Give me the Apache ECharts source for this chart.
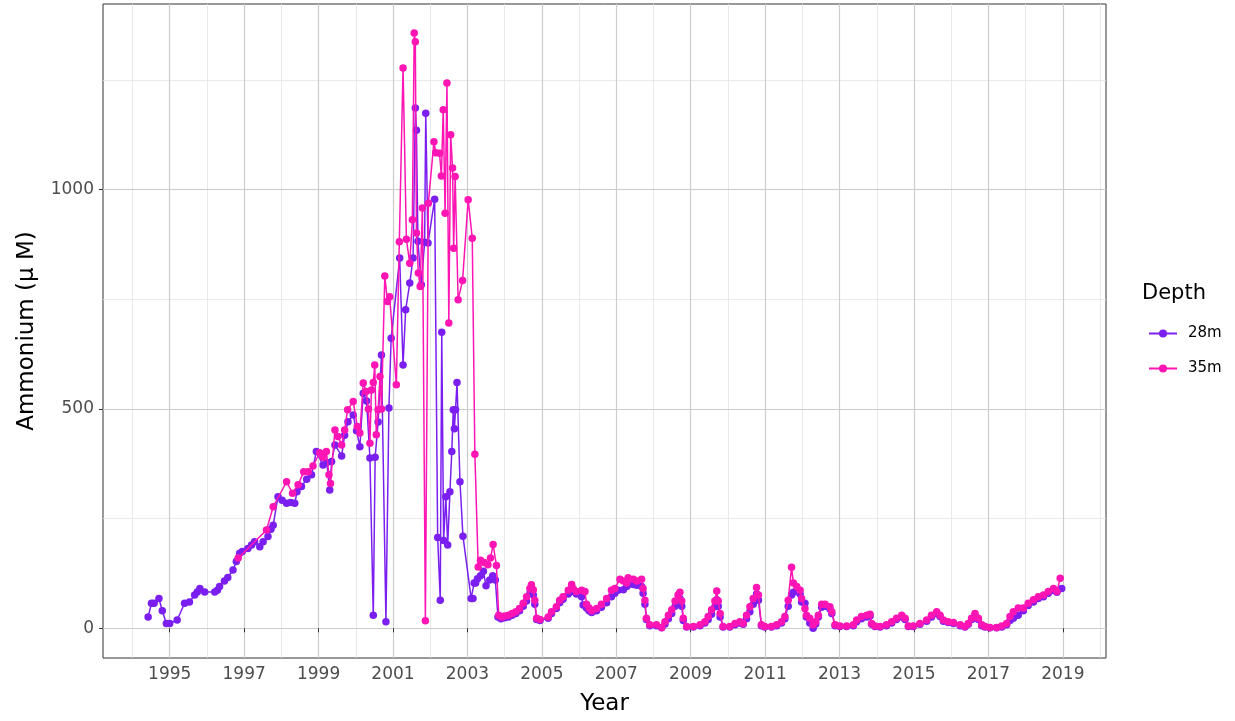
<!DOCTYPE html>
<html><head><meta charset="utf-8">
<script src="https://cdn.jsdelivr.net/npm/echarts@6/dist/echarts.min.js"></script>
<style>html,body{margin:0;padding:0;background:#fff}#c{width:1235px;height:721px}</style>
</head><body><div id="c"></div>
<script>
// [decimal year, ammonium µM]
const depth28m = [
[1994.42,26],[1994.51,57],[1994.58,57],[1994.71,68],[1994.8,40],[1994.91,11],[1995.0,11],[1995.2,19],[1995.4,57],[1995.53,60],
[1995.67,76],[1995.74,83],[1995.81,91],[1995.94,83],[1996.21,83],[1996.28,87],[1996.34,95],[1996.47,108],[1996.56,116],[1996.7,133],
[1996.79,152],[1996.88,171],[1996.95,175],[1997.1,182],[1997.2,190],[1997.28,197],[1997.42,186],[1997.51,197],[1997.64,209],[1997.72,226],
[1997.78,235],[1997.91,300],[1998.02,292],[1998.14,285],[1998.25,287],[1998.36,285],[1998.42,311],[1998.54,323],[1998.68,340],[1998.81,350],
[1998.94,403],[1999.12,372],[1999.22,378],[1999.3,315],[1999.35,380],[1999.44,418],[1999.62,393],[1999.7,440],[1999.79,471],[1999.93,486],
[2000.02,450],[2000.11,414],[2000.2,536],[2000.29,518],[2000.38,388],[2000.47,30],[2000.52,390],[2000.6,470],[2000.69,623],[2000.81,15],
[2000.89,502],[2000.95,661],[2001.18,844],[2001.27,600],[2001.34,726],[2001.45,787],[2001.54,844],[2001.6,1186],[2001.63,1135],[2001.67,882],
[2001.76,783],[2001.85,880],[2001.88,1174],[2001.94,878],[2002.12,978],[2002.2,207],[2002.27,64],[2002.31,675],[2002.36,200],[2002.42,300],
[2002.47,190],[2002.53,311],[2002.58,403],[2002.62,498],[2002.65,455],[2002.68,498],[2002.72,560],[2002.8,334],[2002.88,210],[2003.1,68],
[2003.15,68],[2003.18,103],[2003.22,103],[2003.27,113],[2003.35,120],[2003.43,130],[2003.5,97],[2003.6,110],[2003.68,120],[2003.75,110],
[2003.82,26],[2003.9,22],[2004.0,24],[2004.1,26],[2004.2,30],[2004.3,34],[2004.4,40],[2004.5,50],[2004.59,62],[2004.68,80],
[2004.72,85],[2004.77,76],[2004.81,55],[2004.86,20],[2004.95,18],[2005.17,23],[2005.26,34],[2005.39,45],[2005.48,58],[2005.57,66],
[2005.71,78],[2005.8,90],[2005.84,84],[2005.93,78],[2006.07,72],[2006.11,53],[2006.2,46],[2006.27,40],[2006.34,36],[2006.47,40],
[2006.6,48],[2006.74,58],[2006.87,72],[2006.96,80],[2007.05,87],[2007.19,88],[2007.28,95],[2007.32,100],[2007.46,100],[2007.55,98],
[2007.68,95],[2007.72,80],[2007.77,55],[2007.81,20],[2007.9,6],[2008.08,6],[2008.22,1],[2008.31,10],[2008.4,22],[2008.49,34],
[2008.58,50],[2008.66,62],[2008.71,68],[2008.76,50],[2008.8,18],[2008.89,3],[2009.07,3],[2009.25,6],[2009.38,12],[2009.47,20],
[2009.56,32],[2009.65,49],[2009.7,65],[2009.74,50],[2009.79,26],[2009.87,3],[2010.05,3],[2010.19,8],[2010.32,12],[2010.41,9],
[2010.5,22],[2010.59,38],[2010.68,55],[2010.77,78],[2010.82,64],[2010.9,6],[2010.99,3],[2011.17,3],[2011.31,6],[2011.44,12],
[2011.53,22],[2011.62,50],[2011.71,76],[2011.76,82],[2011.85,85],[2011.94,78],[2011.98,60],[2012.07,57],[2012.11,26],[2012.2,12],
[2012.29,0],[2012.36,10],[2012.43,26],[2012.52,48],[2012.61,50],[2012.74,44],[2012.79,34],[2012.88,6],[2013.01,4],[2013.19,4],
[2013.37,6],[2013.46,15],[2013.59,22],[2013.73,26],[2013.82,28],[2013.86,9],[2013.95,4],[2014.09,3],[2014.26,6],[2014.4,12],
[2014.53,20],[2014.67,26],[2014.76,20],[2014.85,4],[2014.98,4],[2015.16,9],[2015.34,16],[2015.47,26],[2015.61,33],[2015.7,27],
[2015.79,16],[2015.92,13],[2016.06,11],[2016.24,6],[2016.37,3],[2016.46,9],[2016.55,20],[2016.64,30],[2016.73,20],[2016.82,6],
[2016.91,3],[2017.04,1],[2017.22,1],[2017.36,3],[2017.49,8],[2017.58,18],[2017.67,23],[2017.8,30],[2017.94,40],[2018.07,52],
[2018.21,60],[2018.34,68],[2018.48,72],[2018.61,80],[2018.75,86],[2018.84,82],[2018.97,91]
];
const depth35m = [
[1996.84,160],[1997.6,224],[1997.78,277],[1998.14,334],[1998.3,308],[1998.45,327],[1998.6,357],[1998.72,357],[1998.85,370],[1999.03,400],
[1999.12,390],[1999.21,403],[1999.28,350],[1999.32,330],[1999.44,452],[1999.52,437],[1999.62,418],[1999.7,452],[1999.78,498],[1999.93,517],
[2000.04,460],[2000.11,445],[2000.2,559],[2000.28,540],[2000.34,500],[2000.38,422],[2000.42,543],[2000.47,560],[2000.51,600],[2000.55,441],
[2000.6,498],[2000.65,574],[2000.69,500],[2000.78,803],[2000.85,745],[2000.91,756],[2001.09,555],[2001.17,881],[2001.27,1277],[2001.36,887],
[2001.45,832],[2001.52,931],[2001.57,1357],[2001.6,1337],[2001.63,901],[2001.68,810],[2001.73,779],[2001.79,958],[2001.87,17],[2001.95,969],
[2002.1,1109],[2002.15,1084],[2002.25,1083],[2002.3,1031],[2002.35,1182],[2002.4,946],[2002.45,1243],[2002.5,696],[2002.55,1125],[2002.6,1049],
[2002.63,866],[2002.67,1030],[2002.75,749],[2002.87,793],[2003.02,977],[2003.13,889],[2003.2,397],[2003.29,140],[2003.35,155],[2003.45,150],
[2003.55,145],[2003.62,160],[2003.69,191],[2003.78,143],[2003.84,30],[2003.92,26],[2004.0,28],[2004.1,30],[2004.2,34],[2004.3,38],
[2004.4,45],[2004.5,57],[2004.59,72],[2004.68,91],[2004.72,99],[2004.77,88],[2004.81,64],[2004.86,23],[2004.95,20],[2005.17,26],
[2005.26,38],[2005.39,49],[2005.48,64],[2005.57,72],[2005.71,87],[2005.8,100],[2005.84,91],[2005.93,84],[2006.07,87],[2006.16,84],
[2006.2,55],[2006.27,46],[2006.34,40],[2006.47,45],[2006.6,55],[2006.74,68],[2006.87,87],[2006.96,91],[2007.1,112],[2007.19,108],
[2007.28,103],[2007.32,115],[2007.46,112],[2007.55,108],[2007.68,112],[2007.72,91],[2007.77,64],[2007.81,23],[2007.9,8],[2008.08,8],
[2008.22,2],[2008.31,15],[2008.4,30],[2008.49,42],[2008.58,62],[2008.66,76],[2008.71,82],[2008.76,62],[2008.8,23],[2008.89,4],
[2009.07,4],[2009.25,8],[2009.38,15],[2009.47,27],[2009.56,42],[2009.65,62],[2009.7,85],[2009.74,62],[2009.79,34],[2009.87,4],
[2010.05,4],[2010.19,11],[2010.32,15],[2010.41,11],[2010.5,30],[2010.59,49],[2010.68,68],[2010.77,93],[2010.82,76],[2010.9,8],
[2010.99,4],[2011.17,4],[2011.31,8],[2011.44,15],[2011.53,27],[2011.62,64],[2011.71,139],[2011.76,103],[2011.85,95],[2011.94,87],
[2011.98,68],[2012.07,45],[2012.11,30],[2012.2,23],[2012.29,8],[2012.36,15],[2012.43,30],[2012.52,55],[2012.61,55],[2012.74,49],
[2012.79,38],[2012.88,8],[2013.01,5],[2013.19,5],[2013.37,8],[2013.46,19],[2013.59,27],[2013.73,30],[2013.82,32],[2013.86,11],
[2013.95,5],[2014.09,4],[2014.26,8],[2014.4,15],[2014.53,23],[2014.67,30],[2014.76,23],[2014.85,5],[2014.98,5],[2015.16,11],
[2015.34,19],[2015.47,30],[2015.61,38],[2015.7,30],[2015.79,19],[2015.92,15],[2016.06,13],[2016.24,8],[2016.37,4],[2016.46,11],
[2016.55,23],[2016.64,34],[2016.73,23],[2016.82,8],[2016.91,4],[2017.04,2],[2017.22,2],[2017.36,5],[2017.49,11],[2017.58,27],
[2017.67,38],[2017.8,46],[2017.94,46],[2018.07,57],[2018.21,65],[2018.34,72],[2018.48,76],[2018.61,84],[2018.75,91],[2018.84,84],
[2018.93,114]
];
const seriesNames = ['28m', '35m'];
const xMajorTicks = [1995,1997,1999,2001,2003,2005,2007,2009,2011,2013,2015,2017,2019];
const xMinorTicks = [1994,1996,1998,2000,2002,2004,2006,2008,2010,2012,2014,2016,2018,2020];
const yMajorTicks = [0,500,1000];
const yMinorTicks = [250,750,1250];

const FONT = 'DejaVu Sans';
const majorColor = '#cccccc', minorColor = '#e3e3e3';
const gridLines = []
  .concat(xMinorTicks.map(v => ({xAxis: v, lineStyle: {color: minorColor, width: 0.8, type: 'solid'}})))
  .concat(yMinorTicks.map(v => ({yAxis: v, lineStyle: {color: minorColor, width: 0.8, type: 'solid'}})))
  .concat(xMajorTicks.map(v => ({xAxis: v, lineStyle: {color: majorColor, width: 1.2, type: 'solid'}})))
  .concat(yMajorTicks.map(v => ({yAxis: v, lineStyle: {color: majorColor, width: 1.2, type: 'solid'}})));

const chart = echarts.init(document.getElementById('c'), null, {renderer: 'canvas'});
chart.setOption({
  animation: false,
  backgroundColor: '#ffffff',
  title: {
    text: 'Depth', left: 1137, top: 278,
    textStyle: {fontFamily: FONT, fontSize: 21, fontWeight: 'normal', color: '#000'}
  },
  legend: {
    data: seriesNames, orient: 'vertical', left: 1143, top: 321,
    itemWidth: 28, itemHeight: 10, itemGap: 20,
    textStyle: {fontFamily: FONT, fontSize: 15, color: '#000', padding: [0, 0, 0, 6]}
  },
  grid: {
    left: 103, top: 4, right: 129, bottom: 63,
    show: true, backgroundColor: '#fff', borderColor: '#333', borderWidth: 1,
    containLabel: false
  },
  xAxis: {
    type: 'value', min: 1993.207, max: 2020.16,
    name: 'Year', nameLocation: 'middle', nameGap: 35,
    nameTextStyle: {fontFamily: FONT, fontSize: 23, color: '#000'},
    axisLine: {show: false},
    splitLine: {show: false},
    axisTick: {show: true, length: 4, lineStyle: {color: '#333'}, customValues: xMajorTicks},
    axisLabel: {show: true, margin: 8, fontFamily: FONT, fontSize: 17, color: '#4d4d4d', customValues: xMajorTicks,
      formatter: v => String(Math.round(v))}
  },
  yAxis: {
    type: 'value', min: -67.7, max: 1423,
    name: 'Ammonium (μ M)', nameLocation: 'middle', nameGap: 64, nameRotate: 90,
    nameTextStyle: {fontFamily: FONT, fontSize: 23, color: '#000'},
    axisLine: {show: false},
    splitLine: {show: false},
    axisTick: {show: true, length: 4, lineStyle: {color: '#333'}, customValues: yMajorTicks},
    axisLabel: {show: true, margin: 9, fontFamily: FONT, fontSize: 17, color: '#4d4d4d', customValues: yMajorTicks,
      formatter: v => String(Math.round(v))}
  },
  series: [
    {
      name: '__grid', type: 'line', data: [[2000, 0]], symbol: 'none', silent: true, z: 0,
      lineStyle: {opacity: 0}, legendHoverLink: false,
      markLine: {silent: true, symbol: ['none', 'none'], label: {show: false}, z: 0, animation: false, data: gridLines}
    },
    {
      name: seriesNames[0], type: 'line', data: depth28m, z: 3,
      symbol: 'circle', symbolSize: 7.5, showSymbol: true,
      itemStyle: {color: '#7a1ff0'}, lineStyle: {color: '#7a1ff0', width: 1.5}
    },
    {
      name: seriesNames[1], type: 'line', data: depth35m, z: 4,
      symbol: 'circle', symbolSize: 7.5, showSymbol: true,
      itemStyle: {color: '#ff14b4'}, lineStyle: {color: '#ff14b4', width: 1.5}
    }
  ]
});
</script>
</body></html>
